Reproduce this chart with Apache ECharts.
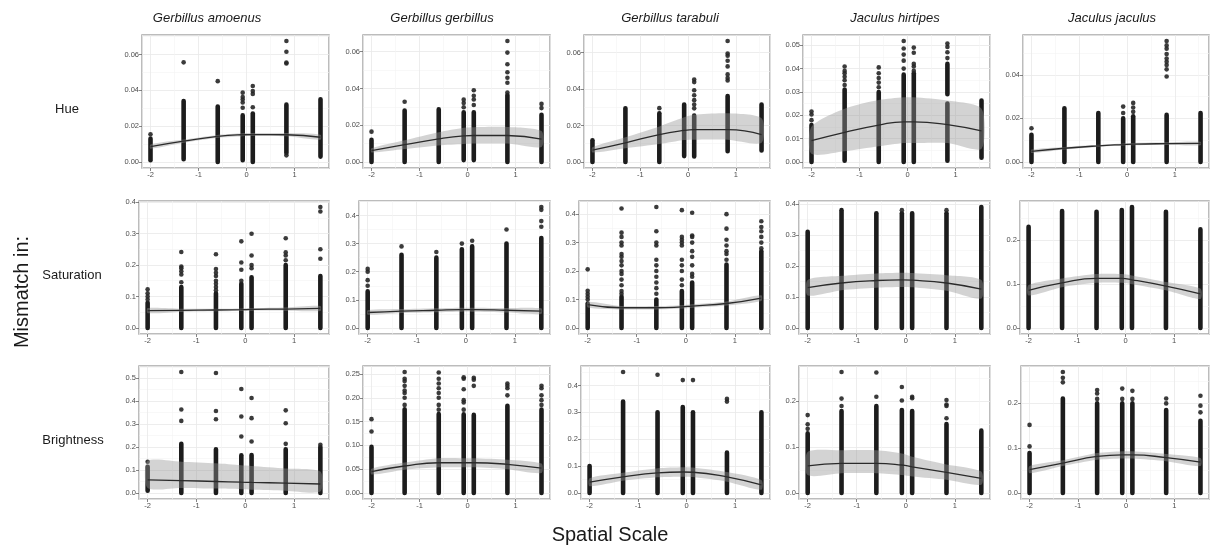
<!DOCTYPE html>
<html>
<head>
<meta charset="utf-8">
<script src="https://cdn.jsdelivr.net/npm/echarts@6/dist/echarts.min.js"></script>
<style>
  html, body { margin: 0; padding: 0; background: #fff; }
  #chart { width: 1210px; height: 549px; }
</style>
</head>
<body>
<div id="chart"></div>
<script>
// spatial scale of the sampled columns (same for every panel)
const xScale = [-2, -1.31, -0.6, -0.08, 0.13, 0.83, 1.54];
const xTicks = [-2, -1, 0, 1];
const species = ['Gerbillus amoenus', 'Gerbillus gerbillus', 'Gerbillus tarabuli', 'Jaculus hirtipes', 'Jaculus jaculus'];
const traits = ['Hue', 'Saturation', 'Brightness'];
const yStep = [[0.02, 0.02, 0.02, 0.01, 0.02], [0.1, 0.1, 0.1, 0.1, 0.1], [0.1, 0.05, 0.1, 0.1, 0.1]];

// dense runs of points: [column, from, to]; outliers listed per column
// fit / low / high = smoother and its confidence band at each column

// Hue
const hueAmoDense = [[0,0.001,0.013],[1,0.0015,0.034],[2,0,0.031],[3,0.001,0.026],[4,0,0.027],[5,0.005,0.032],[6,0.003,0.035]];
const hueAmoOut = [[0.0155],[0.0556],[0.0451],[0.0303,0.0332,0.0349,0.0363,0.0387],[0.0305,0.038,0.0396,0.0424],[0.0037,0.055,0.0555,0.0615,0.0675],[]];
const hueAmoFit = [0.0086,0.0116,0.0143,0.0152,0.0153,0.0152,0.0138];
const hueAmoLow = [0.0074,0.0107,0.0135,0.0144,0.0145,0.0143,0.0124];
const hueAmoHigh = [0.0098,0.0125,0.0151,0.0160,0.0161,0.0161,0.0152];

const hueGerDense = [[0,0,0.012],[1,0,0.028],[2,0,0.0286],[3,0.001,0.027],[4,0.001,0.027],[5,0,0.0364],[6,0,0.0257]];
const hueGerOut = [[0.0165],[0.0328],[],[0.0298,0.0321,0.0339],[0.031,0.034,0.036,0.039],[0.0378,0.0431,0.0458,0.0488,0.0532,0.0595,0.0658],[0.0293,0.0316]];
const hueGerFit = [0.0062,0.0094,0.0126,0.0142,0.0144,0.0144,0.0124];
const hueGerLow = [0.0052,0.0070,0.0090,0.0098,0.0100,0.0100,0.0082];
const hueGerHigh = [0.0074,0.0118,0.0162,0.0186,0.0189,0.0190,0.0168];

const hueTarDense = [[0,0,0.0119],[1,0,0.0294],[2,0,0.0267],[3,0.0032,0.0315],[4,0.003,0.0254],[5,0.0059,0.0362],[6,0.0063,0.0315]];
const hueTarOut = [[],[],[0.0295],[],[0.0294,0.0315,0.0339,0.0366,0.0393,0.0438,0.0452],[0.0447,0.046,0.048,0.0524,0.0555,0.0582,0.0595,0.0663],[]];
const hueTarFit = [0.0065,0.0105,0.015,0.0173,0.0177,0.0177,0.015];
const hueTarLow = [0.0052,0.0075,0.0098,0.012,0.0122,0.0122,0.0105];
const hueTarHigh = [0.008,0.0135,0.0195,0.0245,0.026,0.0267,0.024];

const hueHirDense = [[0,0,0.0158],[1,0.0005,0.031],[2,0,0.030],[3,0,0.0374],[4,0,0.038],[5,0.0005,0.025],[5,0.029,0.042],[6,0.0018,0.0263]];
const hueHirOut = [[0.0179,0.0203,0.0216],[0.033,0.035,0.0365,0.038,0.039,0.0409],[0.032,0.034,0.036,0.038,0.0405],[0.040,0.0434,0.046,0.0486,0.0518],[0.039,0.0409,0.042,0.0468,0.049],[0.0445,0.047,0.0493,0.0507],[]];
const hueHirFit = [0.0091,0.0127,0.0158,0.0172,0.0172,0.016,0.0133];
const hueHirLow = [0.0035,0.0046,0.0067,0.0081,0.0081,0.0081,0.0057];
const hueHirHigh = [0.0151,0.0228,0.0265,0.0277,0.0277,0.0263,0.0228];

const hueJacDense = [[0,0,0.0125],[1,0,0.0246],[2,0,0.0225],[3,0,0.020],[4,0,0.021],[5,0,0.0216],[6,0,0.0225]];
const hueJacOut = [[0.0155],[],[],[0.0225,0.0254],[0.023,0.025,0.0271],[0.0392,0.0425,0.0445,0.046,0.0475,0.0495,0.052,0.0535,0.0555],[]];
const hueJacFit = [0.0049,0.0063,0.0074,0.0080,0.0082,0.0084,0.0085];
const hueJacLow = [0.0041,0.0057,0.0069,0.0075,0.0077,0.0078,0.0077];
const hueJacHigh = [0.0057,0.0069,0.0079,0.0085,0.0087,0.0090,0.0093];

// Saturation
const satAmoDense = [[0,0,0.08],[1,0,0.13],[2,0,0.11],[3,0,0.14],[4,0,0.161],[5,0,0.2],[6,0,0.165]];
const satAmoOut = [[0.09,0.1,0.11,0.1226],[0.145,0.17,0.18,0.19,0.195,0.241],[0.12,0.13,0.14,0.15,0.165,0.175,0.187,0.234],[0.15,0.185,0.208,0.275],[0.19,0.2,0.23,0.299],[0.215,0.23,0.24,0.285],[0.22,0.25,0.37,0.384]];
const satAmoFit = [0.055,0.056,0.057,0.058,0.059,0.060,0.062];
const satAmoLow = [0.047,0.051,0.053,0.054,0.055,0.055,0.054];
const satAmoHigh = [0.063,0.061,0.061,0.062,0.063,0.065,0.070];

const satGerDense = [[0,0,0.13],[1,0,0.26],[2,0,0.25],[3,0,0.28],[4,0,0.29],[5,0,0.3],[6,0,0.32]];
const satGerOut = [[0.15,0.17,0.2,0.21],[0.29],[0.27],[0.3],[0.31],[0.35],[0.36,0.38,0.42,0.43]];
const satGerFit = [0.055,0.06,0.063,0.065,0.065,0.063,0.06];
const satGerLow = [0.047,0.053,0.056,0.058,0.058,0.055,0.05];
const satGerHigh = [0.063,0.067,0.070,0.072,0.072,0.071,0.07];

const satTarDense = [[0,0,0.0857],[1,0,0.11],[2,0,0.10],[3,0,0.13],[4,0,0.16],[5,0,0.223],[6,0,0.27]];
const satTarOut = [[0.1,0.11,0.12,0.131,0.206],[0.12,0.13,0.15,0.17,0.19,0.2,0.22,0.235,0.25,0.26,0.29,0.3,0.32,0.335,0.42],[0.12,0.14,0.16,0.18,0.2,0.22,0.24,0.29,0.3,0.34,0.425],[0.15,0.17,0.2,0.22,0.24,0.29,0.3,0.31,0.32,0.414],[0.18,0.19,0.22,0.25,0.27,0.3,0.32,0.325,0.405],[0.24,0.26,0.27,0.29,0.31,0.349,0.4],[0.28,0.3,0.32,0.34,0.355,0.375]];
const satTarFit = [0.082,0.071,0.071,0.074,0.077,0.086,0.105];
const satTarLow = [0.072,0.065,0.065,0.068,0.071,0.079,0.095];
const satTarHigh = [0.092,0.077,0.077,0.080,0.083,0.093,0.115];

const satHirDense = [[0,0,0.31],[1,0,0.38],[2,0,0.37],[3,0,0.37],[4,0,0.37],[5,0,0.37],[6,0,0.39]];
const satHirOut = [[],[],[],[0.38],[],[0.38],[]];
const satHirFit = [0.13,0.145,0.153,0.155,0.154,0.145,0.125];
const satHirLow = [0.105,0.122,0.13,0.132,0.131,0.12,0.095];
const satHirHigh = [0.155,0.168,0.176,0.178,0.177,0.17,0.155];

const satJacDense = [[0,0,0.231],[1,0,0.267],[2,0,0.265],[3,0,0.269],[4,0,0.276],[5,0,0.265],[6,0,0.225]];
const satJacOut = [[],[],[],[],[],[],[]];
const satJacFit = [0.086,0.103,0.113,0.113,0.11,0.0955,0.078];
const satJacLow = [0.074,0.093,0.103,0.103,0.100,0.086,0.066];
const satJacHigh = [0.098,0.113,0.123,0.123,0.120,0.105,0.090];

// Brightness
const briAmoDense = [[0,0.01,0.114],[1,0,0.214],[2,0,0.19],[3,0,0.164],[4,0,0.165],[5,0,0.19],[6,0,0.2]];
const briAmoOut = [[0.136],[0.314,0.364,0.527],[0.321,0.357,0.523],[0.246,0.333,0.453],[0.224,0.326,0.414],[0.214,0.304,0.36],[0.21]];
const briAmoFit = [0.057,0.054,0.05,0.047,0.046,0.043,0.039];
const briAmoLow = [0.022,0.022,0.019,0.016,0.014,0.010,0.006];
const briAmoHigh = [0.139,0.136,0.129,0.121,0.118,0.107,0.093];

const briGerDense = [[0,0,0.0967],[1,0,0.176],[2,0,0.166],[3,0,0.165],[4,0,0.164],[5,0,0.183],[6,0,0.175]];
const briGerOut = [[0.129,0.155],[0.185,0.2,0.21,0.215,0.225,0.235,0.24,0.254],[0.175,0.185,0.2,0.21,0.22,0.23,0.24,0.253],[0.175,0.19,0.195,0.218,0.24,0.243],[0.225,0.238,0.242],[0.205,0.22,0.225,0.23],[0.185,0.195,0.205,0.22,0.225]];
const briGerFit = [0.045,0.0566,0.0635,0.0635,0.0635,0.06,0.052];
const briGerLow = [0.039,0.049,0.054,0.054,0.054,0.050,0.042];
const briGerHigh = [0.051,0.064,0.073,0.073,0.073,0.070,0.062];

const briTarDense = [[0,0,0.1],[1,0,0.34],[2,0,0.3],[3,0,0.32],[4,0,0.3],[5,0,0.15],[6,0,0.3]];
const briTarOut = [[],[0.45],[0.44],[0.42],[0.42],[0.34,0.35],[]];
const briTarFit = [0.04,0.06,0.075,0.078,0.077,0.06,0.03];
const briTarLow = [0.025,0.045,0.058,0.06,0.059,0.042,0.012];
const briTarHigh = [0.055,0.075,0.092,0.096,0.095,0.078,0.048];

const briHirDense = [[0,0,0.13],[1,0,0.179],[2,0,0.19],[3,0,0.181],[4,0,0.179],[5,0,0.1505],[6,0,0.136]];
const briHirOut = [[0.14,0.15,0.17],[0.19,0.206,0.264],[0.21,0.263],[0.202,0.2315],[0.207,0.21],[0.163,0.19,0.193,0.203],[]];
const briHirFit = [0.059,0.0645,0.0645,0.061,0.057,0.045,0.032];
const briHirLow = [0.039,0.043,0.043,0.039,0.036,0.029,0.018];
const briHirHigh = [0.0896,0.093,0.093,0.086,0.079,0.062,0.0466];

const briJacDense = [[0,0,0.089],[1,0,0.211],[2,0,0.2],[3,0,0.2],[4,0,0.2],[5,0,0.185],[6,0,0.161]];
const briJacOut = [[0.104,0.152],[0.247,0.257,0.27],[0.21,0.222,0.23],[0.21,0.233],[0.21,0.228],[0.2,0.211],[0.18,0.195,0.217]];
const briJacFit = [0.052,0.0667,0.0815,0.085,0.085,0.079,0.069];
const briJacLow = [0.044,0.060,0.074,0.077,0.077,0.071,0.060];
const briJacHigh = [0.060,0.073,0.089,0.093,0.093,0.087,0.078];

const panels = [
  [[hueAmoDense,hueAmoOut,hueAmoFit,hueAmoLow,hueAmoHigh],[hueGerDense,hueGerOut,hueGerFit,hueGerLow,hueGerHigh],[hueTarDense,hueTarOut,hueTarFit,hueTarLow,hueTarHigh],[hueHirDense,hueHirOut,hueHirFit,hueHirLow,hueHirHigh],[hueJacDense,hueJacOut,hueJacFit,hueJacLow,hueJacHigh]],
  [[satAmoDense,satAmoOut,satAmoFit,satAmoLow,satAmoHigh],[satGerDense,satGerOut,satGerFit,satGerLow,satGerHigh],[satTarDense,satTarOut,satTarFit,satTarLow,satTarHigh],[satHirDense,satHirOut,satHirFit,satHirLow,satHirHigh],[satJacDense,satJacOut,satJacFit,satJacLow,satJacHigh]],
  [[briAmoDense,briAmoOut,briAmoFit,briAmoLow,briAmoHigh],[briGerDense,briGerOut,briGerFit,briGerLow,briGerHigh],[briTarDense,briTarOut,briTarFit,briTarLow,briTarHigh],[briHirDense,briHirOut,briHirFit,briHirLow,briHirHigh],[briJacDense,briJacOut,briJacFit,briJacLow,briJacHigh]]
];

// layout
const rowTop = [35, 201, 366];
const rowBottom = [168, 334, 499];
const colRight = [329, 550, 770, 990, 1209];
const colLeft = [[142,363,584,803,1023],[139,359,579,799,1020],[139,363,581,799,1021]];
const titleX = [207, 442, 670, 895, 1112];

const FONT = '"Liberation Sans", Arial, sans-serif';
const R = 2.3; // point radius

const xMin = xScale[0] - 0.05 * (xScale[6] - xScale[0]);
const xMax = xScale[6] + 0.05 * (xScale[6] - xScale[0]);

function stripItem(params, api) {
  const x = api.value(0), lo = api.value(1), hi = api.value(2);
  const a = api.coord([x, hi]);
  const b = api.coord([x, lo]);
  return {
    type: 'rect',
    shape: { x: a[0] - R, y: a[1] - R, width: 2 * R, height: b[1] - a[1] + 2 * R, r: R },
    style: { fill: '#1c1c1c' }
  };
}

// confidence band: one polygon per panel, upper edge then lower edge back
function bandItem(low, high) {
  return function (params, api) {
    if (params.dataIndex !== 0) return null;
    const up = xScale.map((x, k) => api.coord([x, high[k]]));
    const dn = xScale.map((x, k) => api.coord([x, low[k]])).reverse();
    return {
      type: 'polygon',
      shape: { points: up.concat(dn), smooth: 0.25 },
      style: { fill: 'rgba(150,150,150,0.42)' }
    };
  };
}

const grids = [], xAxes = [], yAxes = [], series = [];
let gi = 0;
for (let r = 0; r < 3; r++) {
  for (let c = 0; c < 5; c++) {
    const [dense, out, fit, low, high] = panels[r][c];
    let top = 0;
    dense.forEach(d => { top = Math.max(top, d[2]); });
    out.forEach(col => col.forEach(v => { top = Math.max(top, v); }));
    const yMin = -0.05 * top, yMax = 1.05 * top;
    const step = yStep[r][c];
    const dec = Math.max(0, -Math.floor(Math.log10(step) + 1e-9));

    grids.push({
      left: colLeft[r][c], top: rowTop[r],
      width: colRight[c] - colLeft[r][c], height: rowBottom[r] - rowTop[r],
      show: true, borderColor: '#a6a6a6', borderWidth: 1.5, backgroundColor: '#fff'
    });
    const common = {
      gridIndex: gi,
      axisLine: { show: false, onZero: false },
      axisTick: { show: true, length: 3, lineStyle: { color: '#666', width: 0.8 } },
      axisLabel: { fontSize: 7.5, color: '#4d4d4d', fontFamily: FONT, margin: 3, showMinLabel: false, showMaxLabel: false },
      splitLine: { show: true, lineStyle: { color: '#e8e8e8', width: 0.8 } },
      minorTick: { show: false, splitNumber: 2 },
      minorSplitLine: { show: true, lineStyle: { color: '#f4f4f4', width: 0.6 } }
    };
    xAxes.push(Object.assign({}, common, {
      type: 'value', min: xMin, max: xMax, position: 'bottom',
      splitNumber: Math.round((xMax - xMin) / (xTicks[1] - xTicks[0])),
      axisLabel: Object.assign({}, common.axisLabel, { formatter: v => String(Math.round(v)) })
    }));
    yAxes.push(Object.assign({}, common, {
      type: 'value', min: yMin, max: yMax, position: 'left',
      splitNumber: Math.round((yMax - yMin) / step),
      axisLabel: Object.assign({}, common.axisLabel, { formatter: v => v.toFixed(dec) })
    }));

    series.push({
      type: 'custom', xAxisIndex: gi, yAxisIndex: gi, silent: true, z: 2,
      renderItem: stripItem,
      data: dense.map(d => [xScale[d[0]], d[1], d[2]])
    });
    const pts = [];
    out.forEach((col, k) => col.forEach(v => pts.push([xScale[k], v])));
    series.push({
      type: 'scatter', xAxisIndex: gi, yAxisIndex: gi, silent: true, z: 2,
      symbolSize: 2 * R, itemStyle: { color: '#262626', opacity: 0.9 },
      data: pts
    });
    series.push({
      type: 'custom', xAxisIndex: gi, yAxisIndex: gi, silent: true, z: 3,
      renderItem: bandItem(low, high),
      data: xScale.map((x, k) => [x, low[k], high[k]])
    });
    series.push({
      type: 'line', xAxisIndex: gi, yAxisIndex: gi, silent: true, z: 4,
      smooth: true, symbol: 'none',
      lineStyle: { color: '#2b2b2b', width: 1.3 },
      data: xScale.map((x, k) => [x, fit[k]])
    });
    gi++;
  }
}

const graphic = [];
species.forEach((s, c) => graphic.push({
  type: 'text', x: titleX[c], y: 18,
  style: { text: s, fontSize: 13, fontStyle: 'italic', fontFamily: FONT, fill: '#1a1a1a', align: 'center', verticalAlign: 'middle' }
}));
const rowLabelX = [67, 72, 73];
traits.forEach((t, r) => graphic.push({
  type: 'text', x: rowLabelX[r], y: (rowTop[r] + rowBottom[r]) / 2 + 8,
  style: { text: t, fontSize: 13, fontFamily: FONT, fill: '#1a1a1a', align: 'center', verticalAlign: 'middle' }
}));
graphic.push({
  type: 'text', x: 22, y: 292, rotation: Math.PI / 2,
  style: { text: 'Mismatch in:', fontSize: 20, fontFamily: FONT, fill: '#1a1a1a', align: 'center', verticalAlign: 'middle' }
});
graphic.push({
  type: 'text', x: 610, y: 535,
  style: { text: 'Spatial Scale', fontSize: 20, fontFamily: FONT, fill: '#1a1a1a', align: 'center', verticalAlign: 'middle' }
});

const chart = echarts.init(document.getElementById('chart'), null, { renderer: 'canvas' });
chart.setOption({
  animation: false,
  backgroundColor: '#fff',
  grid: grids,
  xAxis: xAxes,
  yAxis: yAxes,
  series: series,
  graphic: graphic
});
</script>
</body>
</html>
